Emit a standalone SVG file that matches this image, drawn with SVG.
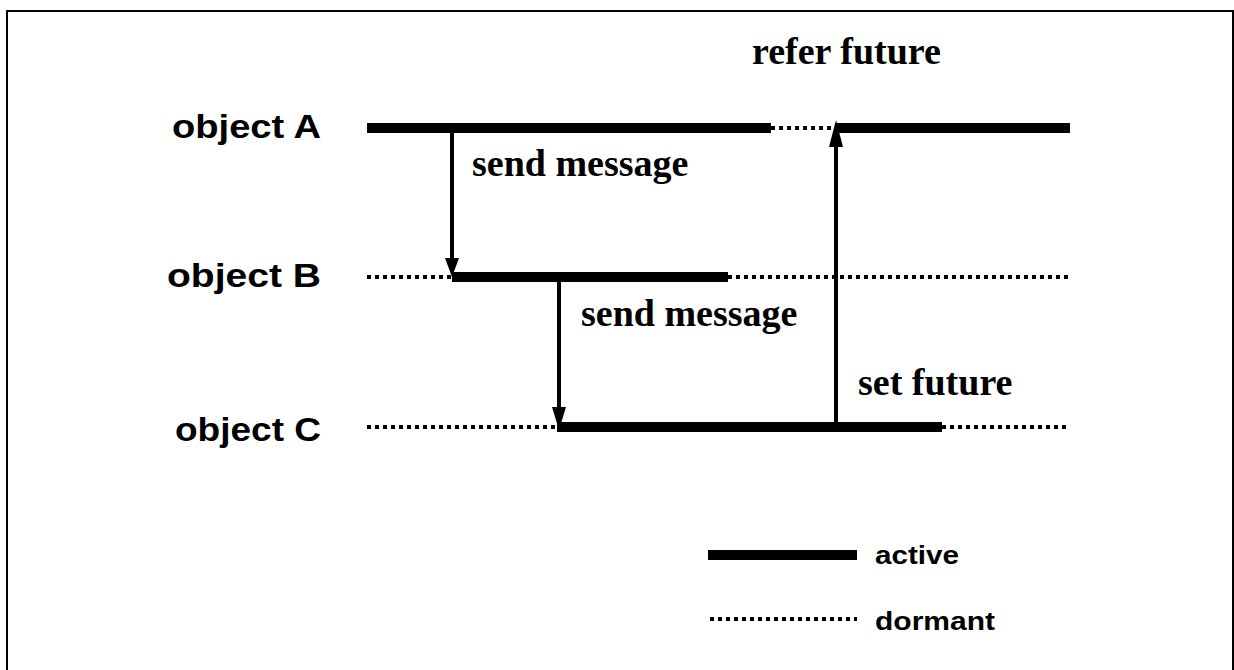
<svg xmlns="http://www.w3.org/2000/svg" width="1234" height="670" viewBox="0 0 1234 670">
<style>
.active{stroke:#000;stroke-width:10;fill:none}
.dormant{stroke:#000;stroke-width:4;stroke-dasharray:4 4;fill:none}
.msg{stroke:#000;stroke-width:4;fill:none}
.obj{font-family:"Liberation Sans",Arial,sans-serif;font-weight:bold;font-size:34px;fill:#000}
.lbl{font-family:"Liberation Serif","Times New Roman",serif;font-weight:bold;font-size:38px;fill:#000}
.leg{font-family:"Liberation Sans",Arial,sans-serif;font-weight:bold;font-size:26px;fill:#000}
</style>
<rect x="0" y="0" width="1234" height="670" fill="#fff"/>
<rect x="7" y="11" width="1226" height="700" fill="none" stroke="#000" stroke-width="2"/>
<g id="objectA">
<text class="obj" x="172" y="138" textLength="149" lengthAdjust="spacingAndGlyphs">object A</text>
<line class="active" x1="367" y1="128" x2="771" y2="128"/>
<line class="dormant" x1="771" y1="128" x2="833" y2="128"/>
<line class="active" x1="835" y1="128" x2="1070" y2="128"/>
</g>
<g id="objectB">
<text class="obj" x="167" y="287" textLength="154" lengthAdjust="spacingAndGlyphs">object B</text>
<line class="dormant" x1="367" y1="277" x2="452" y2="277"/>
<line class="active" x1="452" y1="277" x2="728" y2="277"/>
<line class="dormant" x1="728" y1="277" x2="1070" y2="277"/>
</g>
<g id="objectC">
<text class="obj" x="175" y="441" textLength="146" lengthAdjust="spacingAndGlyphs">object C</text>
<line class="dormant" x1="367" y1="427" x2="557" y2="427"/>
<line class="active" x1="557" y1="427" x2="942" y2="427"/>
<line class="dormant" x1="942" y1="427" x2="1070" y2="427"/>
</g>
<g id="connectors">
<line class="msg" x1="452" y1="133" x2="452" y2="260"/>
<polygon points="445,258 459,258 452,277" fill="#000"/>
<line class="msg" x1="559" y1="282" x2="559" y2="410"/>
<polygon points="552,407 566,407 559,430" fill="#000"/>
<line class="msg" x1="836" y1="427" x2="836" y2="145"/>
<polygon points="829,147 843,147 836,120" fill="#000"/>
</g>
<g id="labels">
<text class="lbl" x="752" y="64">refer future</text>
<text class="lbl" x="472" y="176">send message</text>
<text class="lbl" x="581" y="326">send message</text>
<text class="lbl" x="858" y="395">set future</text>
</g>
<g id="legend">
<line class="active" x1="708" y1="555" x2="857" y2="555" stroke-width="9"/>
<text class="leg" x="875" y="564" textLength="84" lengthAdjust="spacingAndGlyphs">active</text>
<line class="dormant" x1="710" y1="619" x2="857" y2="619"/>
<text class="leg" x="875" y="630" textLength="120" lengthAdjust="spacingAndGlyphs">dormant</text>
</g>
</svg>
